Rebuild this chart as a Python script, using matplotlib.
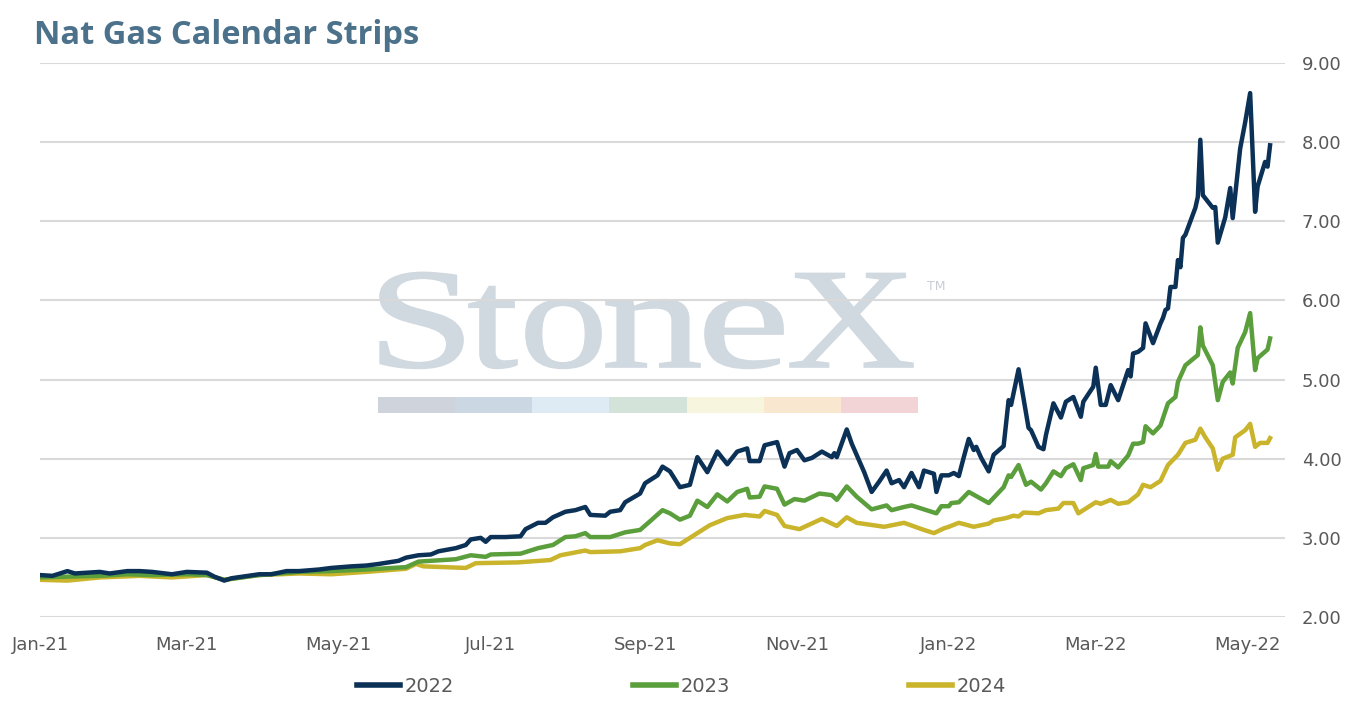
import matplotlib
matplotlib.use("Agg")
import matplotlib.pyplot as plt
import matplotlib.dates as mdates
import pandas as pd
from matplotlib.font_manager import FontProperties
from matplotlib.textpath import TextPath
from matplotlib.patches import PathPatch, Rectangle
from matplotlib.transforms import Affine2D
from matplotlib.lines import Line2D


# ============================================================
# Data
# ============================================================

dates_2022 = [
    "2021-01-01", "2021-01-06", "2021-01-12", "2021-01-15", "2021-01-25", "2021-01-29",
    "2021-02-05", "2021-02-10", "2021-02-15", "2021-02-23", "2021-03-01", "2021-03-09",
    "2021-03-12", "2021-03-16", "2021-03-19", "2021-03-30", "2021-04-04", "2021-04-10",
    "2021-04-15", "2021-04-23", "2021-04-28", "2021-05-06", "2021-05-12", "2021-05-17",
    "2021-05-25", "2021-05-28", "2021-06-02", "2021-06-07", "2021-06-10", "2021-06-17",
    "2021-06-21", "2021-06-23", "2021-06-27", "2021-06-29", "2021-07-01", "2021-07-07",
    "2021-07-13", "2021-07-15", "2021-07-20", "2021-07-23", "2021-07-26", "2021-07-31",
    "2021-08-04", "2021-08-08", "2021-08-10", "2021-08-16", "2021-08-18", "2021-08-22",
    "2021-08-24", "2021-08-30", "2021-09-01", "2021-09-06", "2021-09-08", "2021-09-11",
    "2021-09-15", "2021-09-19", "2021-09-22", "2021-09-26", "2021-09-30", "2021-10-04",
    "2021-10-08", "2021-10-12", "2021-10-13", "2021-10-17", "2021-10-19", "2021-10-24",
    "2021-10-27", "2021-10-29", "2021-11-01", "2021-11-04", "2021-11-07", "2021-11-11",
    "2021-11-15", "2021-11-16", "2021-11-17", "2021-11-21", "2021-11-23", "2021-11-28",
    "2021-12-01", "2021-12-04", "2021-12-07", "2021-12-09", "2021-12-12", "2021-12-14",
    "2021-12-17", "2021-12-20", "2021-12-22", "2021-12-26", "2021-12-27", "2021-12-29",
    "2022-01-01", "2022-01-03", "2022-01-05", "2022-01-07", "2022-01-09", "2022-01-11",
    "2022-01-12", "2022-01-14", "2022-01-17", "2022-01-19", "2022-01-23", "2022-01-25",
    "2022-01-26", "2022-01-29", "2022-02-02", "2022-02-03", "2022-02-06", "2022-02-08",
    "2022-02-09", "2022-02-12", "2022-02-15", "2022-02-17", "2022-02-20", "2022-02-23",
    "2022-02-24", "2022-02-28", "2022-03-01", "2022-03-03", "2022-03-05", "2022-03-07",
    "2022-03-10", "2022-03-14", "2022-03-15", "2022-03-16", "2022-03-18", "2022-03-20",
    "2022-03-21", "2022-03-24", "2022-03-27", "2022-03-28", "2022-03-29", "2022-03-30",
    "2022-03-31", "2022-04-02", "2022-04-03", "2022-04-04", "2022-04-05", "2022-04-06",
    "2022-04-10", "2022-04-11", "2022-04-12", "2022-04-13", "2022-04-17", "2022-04-18",
    "2022-04-19", "2022-04-22", "2022-04-24", "2022-04-25", "2022-04-28", "2022-04-30",
    "2022-05-02", "2022-05-04", "2022-05-05", "2022-05-08", "2022-05-09", "2022-05-10",
]
values_2022 = [
    2.53, 2.52, 2.58, 2.55, 2.57, 2.55,
    2.58, 2.58, 2.57, 2.54, 2.57, 2.56,
    2.51, 2.46, 2.49, 2.54, 2.54, 2.58,
    2.58, 2.60, 2.62, 2.64, 2.65, 2.67,
    2.71, 2.75, 2.78, 2.79, 2.83, 2.87,
    2.91, 2.98, 3.00, 2.95, 3.01, 3.01,
    3.02, 3.11, 3.19, 3.19, 3.26, 3.33,
    3.35, 3.39, 3.29, 3.28, 3.33, 3.35,
    3.45, 3.56, 3.69, 3.79, 3.90, 3.84,
    3.64, 3.67, 4.02, 3.83, 4.09, 3.93,
    4.09, 4.13, 3.97, 3.97, 4.17, 4.21,
    3.90, 4.07, 4.11, 3.98, 4.01, 4.09,
    4.02, 4.07, 4.02, 4.37, 4.19, 3.83,
    3.58, 3.71, 3.85, 3.69, 3.73, 3.64,
    3.82, 3.64, 3.85, 3.81, 3.58, 3.79,
    3.79, 3.82, 3.78, 4.02, 4.25, 4.11,
    4.15, 4.01, 3.84, 4.05, 4.16, 4.74,
    4.68, 5.13, 4.39, 4.36, 4.15, 4.12,
    4.30, 4.70, 4.52, 4.72, 4.78, 4.53,
    4.72, 4.91, 5.15, 4.68, 4.68, 4.93,
    4.74, 5.12, 5.04, 5.33, 5.35, 5.40,
    5.71, 5.46, 5.71, 5.78, 5.88, 5.90,
    6.17, 6.17, 6.51, 6.42, 6.79, 6.83,
    7.17, 7.31, 8.03, 7.33, 7.17, 7.18,
    6.73, 7.05, 7.42, 7.04, 7.92, 8.25,
    8.62, 7.12, 7.44, 7.75, 7.69, 7.96,
]

dates_2023 = [
    "2021-01-01", "2021-01-12", "2021-01-25", "2021-02-05", "2021-02-15", "2021-03-01",
    "2021-03-09", "2021-03-16", "2021-03-30", "2021-04-15", "2021-04-28", "2021-05-12",
    "2021-05-28", "2021-06-02", "2021-06-17", "2021-06-23", "2021-06-29", "2021-07-01",
    "2021-07-13", "2021-07-20", "2021-07-26", "2021-07-31", "2021-08-04", "2021-08-08",
    "2021-08-10", "2021-08-18", "2021-08-22", "2021-08-24", "2021-08-30", "2021-09-03",
    "2021-09-08", "2021-09-11", "2021-09-15", "2021-09-19", "2021-09-22", "2021-09-26",
    "2021-09-30", "2021-10-04", "2021-10-08", "2021-10-12", "2021-10-13", "2021-10-17",
    "2021-10-19", "2021-10-24", "2021-10-27", "2021-10-31", "2021-11-04", "2021-11-10",
    "2021-11-15", "2021-11-17", "2021-11-21", "2021-11-25", "2021-12-01", "2021-12-07",
    "2021-12-09", "2021-12-14", "2021-12-17", "2021-12-27", "2021-12-29", "2022-01-01",
    "2022-01-02", "2022-01-05", "2022-01-09", "2022-01-17", "2022-01-23", "2022-01-25",
    "2022-01-26", "2022-01-29", "2022-02-01", "2022-02-03", "2022-02-07", "2022-02-09",
    "2022-02-12", "2022-02-15", "2022-02-17", "2022-02-20", "2022-02-23", "2022-02-24",
    "2022-02-28", "2022-03-01", "2022-03-02", "2022-03-06", "2022-03-07", "2022-03-10",
    "2022-03-14", "2022-03-16", "2022-03-18", "2022-03-20", "2022-03-21", "2022-03-24",
    "2022-03-27", "2022-03-30", "2022-04-02", "2022-04-03", "2022-04-06", "2022-04-11",
    "2022-04-12", "2022-04-13", "2022-04-17", "2022-04-19", "2022-04-21", "2022-04-24",
    "2022-04-25", "2022-04-27", "2022-04-30", "2022-05-02", "2022-05-04", "2022-05-05",
    "2022-05-09", "2022-05-10",
]
values_2023 = [
    2.50, 2.51, 2.52, 2.54, 2.53, 2.54,
    2.53, 2.47, 2.53, 2.57, 2.58, 2.60,
    2.63, 2.70, 2.73, 2.78, 2.76, 2.79,
    2.80, 2.87, 2.91, 3.01, 3.02, 3.06,
    3.01, 3.01, 3.05, 3.07, 3.10, 3.21,
    3.35, 3.31, 3.23, 3.28, 3.47, 3.39,
    3.55, 3.46, 3.58, 3.62, 3.51, 3.52,
    3.65, 3.62, 3.42, 3.49, 3.47, 3.56,
    3.54, 3.48, 3.65, 3.52, 3.36, 3.41,
    3.35, 3.39, 3.41, 3.31, 3.40, 3.40,
    3.44, 3.45, 3.58, 3.44, 3.64, 3.79,
    3.77, 3.92, 3.67, 3.71, 3.61, 3.69,
    3.84, 3.78, 3.88, 3.93, 3.73, 3.88,
    3.92, 4.06, 3.90, 3.90, 3.97, 3.89,
    4.04, 4.19, 4.19, 4.21, 4.41, 4.32,
    4.42, 4.70, 4.78, 4.97, 5.18, 5.31,
    5.66, 5.43, 5.18, 4.74, 4.97, 5.09,
    4.95, 5.40, 5.60, 5.84, 5.12, 5.27,
    5.38, 5.52,
]

dates_2024 = [
    "2021-01-01", "2021-01-12", "2021-01-25", "2021-02-10", "2021-02-23", "2021-03-09",
    "2021-03-16", "2021-03-30", "2021-04-15", "2021-04-28", "2021-05-12", "2021-05-28",
    "2021-06-01", "2021-06-04", "2021-06-21", "2021-06-25", "2021-07-12", "2021-07-25",
    "2021-07-29", "2021-08-08", "2021-08-10", "2021-08-22", "2021-08-30", "2021-09-01",
    "2021-09-06", "2021-09-11", "2021-09-15", "2021-09-19", "2021-09-22", "2021-09-27",
    "2021-10-04", "2021-10-11", "2021-10-17", "2021-10-19", "2021-10-24", "2021-10-27",
    "2021-11-02", "2021-11-11", "2021-11-17", "2021-11-21", "2021-11-25", "2021-12-06",
    "2021-12-14", "2021-12-22", "2021-12-26", "2021-12-30", "2022-01-01", "2022-01-05",
    "2022-01-11", "2022-01-17", "2022-01-19", "2022-01-24", "2022-01-27", "2022-01-29",
    "2022-01-31", "2022-02-06", "2022-02-09", "2022-02-14", "2022-02-16", "2022-02-20",
    "2022-02-22", "2022-02-26", "2022-03-01", "2022-03-03", "2022-03-07", "2022-03-10",
    "2022-03-14", "2022-03-18", "2022-03-20", "2022-03-23", "2022-03-27", "2022-03-30",
    "2022-04-03", "2022-04-06", "2022-04-10", "2022-04-12", "2022-04-14", "2022-04-17",
    "2022-04-19", "2022-04-21", "2022-04-25", "2022-04-26", "2022-04-30", "2022-05-02",
    "2022-05-04", "2022-05-06", "2022-05-09", "2022-05-10",
]
values_2024 = [
    2.47, 2.46, 2.50, 2.52, 2.50, 2.53,
    2.47, 2.53, 2.55, 2.54, 2.57, 2.61,
    2.67, 2.64, 2.62, 2.68, 2.69, 2.72,
    2.78, 2.84, 2.82, 2.83, 2.87, 2.91,
    2.97, 2.93, 2.92, 3.00, 3.06, 3.16,
    3.25, 3.29, 3.27, 3.34, 3.29, 3.15,
    3.11, 3.24, 3.15, 3.26, 3.19, 3.14,
    3.19, 3.10, 3.06, 3.12, 3.14, 3.19,
    3.14, 3.18, 3.22, 3.25, 3.28, 3.27,
    3.32, 3.31, 3.35, 3.37, 3.44, 3.44,
    3.31, 3.39, 3.45, 3.43, 3.48, 3.43,
    3.45, 3.55, 3.67, 3.64, 3.72, 3.92,
    4.05, 4.20, 4.24, 4.38, 4.27, 4.13,
    3.86, 4.00, 4.05, 4.27, 4.36, 4.44,
    4.15, 4.20, 4.20, 4.26,
]

series_labels = ["2022", "2023", "2024"]
series_colors = ["#0b3157", "#5b9e3c", "#c9b42b"]

y_ticks = [2.0, 3.0, 4.0, 5.0, 6.0, 7.0, 8.0, 9.0]

watermark_text = "StoneX"
watermark_colors = ["#cfd4dc", "#ccd7e4", "#deeaf4", "#d4e3d9",
                    "#f7f5dd", "#f9e7d0", "#f2d4d6"]


# ============================================================
# Figure
# ============================================================

W, H = 1350, 707
fig = plt.figure(figsize=(W / 100, H / 100), dpi=100)
plt.rcParams["font.family"] = ["DejaVu Sans"]

ax = fig.add_axes([40 / W, 1 - 617 / H, (1285 - 40) / W, (617 - 63) / H])

all_series = [
    (dates_2022, values_2022),
    (dates_2023, values_2023),
    (dates_2024, values_2024),
]

# draw later series first so 2022 sits on top
for (d, v), color, label in reversed(list(zip(all_series, series_colors, series_labels))):
    ax.plot(pd.to_datetime(d), v, color=color, lw=3.2, label=label, zorder=3)

ax.set_xlim(pd.Timestamp("2021-01-01"), pd.Timestamp("2022-05-16"))
ax.set_ylim(2, 9)

ax.set_yticks(y_ticks)
ax.yaxis.set_major_formatter(matplotlib.ticker.FormatStrFormatter("%.2f"))
ax.yaxis.tick_right()

ax.xaxis.set_major_locator(mdates.MonthLocator(bymonth=[1, 3, 5, 7, 9, 11]))
ax.xaxis.set_major_formatter(mdates.DateFormatter("%b-%y"))

ax.tick_params(axis="both", length=0, colors="#595959", labelsize=13)
ax.tick_params(axis="x", pad=14)
ax.tick_params(axis="y", pad=12)

for spine in ax.spines.values():
    spine.set_visible(False)

ax.set_axisbelow(True)
ax.grid(axis="y", color="#d9d9d9", lw=1.5)
ax.grid(axis="x", visible=False)

# --------------------------------------------------------
# StoneX watermark, one letter at a time (figure pixel space)
# --------------------------------------------------------

to_fig = Affine2D().scale(1 / W, 1 / H) + fig.transFigure
wm_font = FontProperties(family="Liberation Serif")

# left/right pixel edge of each letter in the logo
letter_boxes = [(380, 463), (469, 517), (526, 601), (606, 700), (705, 783), (790, 913)]
baseline = 367
cap_px = 96

s_ext = TextPath((0, 0), "S", size=1, prop=wm_font).get_extents()
sy = cap_px / s_ext.height
for ch, (lx, rx) in zip(watermark_text, letter_boxes):
    tp = TextPath((0, 0), ch, size=1, prop=wm_font)
    bb = tp.get_extents()
    tr = (Affine2D()
          .translate(-bb.x0, 0)
          .scale((rx - lx) / bb.width, sy)
          .translate(lx, H - baseline))
    ax.add_patch(PathPatch(tp, transform=tr + to_fig, facecolor="#d0d8e0",
                           edgecolor="#d0d8e0", lw=1.2, zorder=0.2, clip_on=False))

fig.text(927 / W, 1 - 286 / H, "TM", color="#c8ced6", fontsize=9, ha="left", va="center")

seg_w = (918 - 378) / len(watermark_colors)
for i, c in enumerate(watermark_colors):
    ax.add_patch(Rectangle((378 + i * seg_w, H - 413), seg_w, 16, transform=to_fig,
                           facecolor=c, edgecolor="none", zorder=0.2, clip_on=False))

# --------------------------------------------------------
# Title and legend
# --------------------------------------------------------

fig.text(34 / W, 1 - 35 / H, "Nat Gas Calendar Strips", color="#4b718b",
         fontsize=23.5, fontweight="bold", family="Open Sans", ha="left", va="center")

handles = [Line2D([], [], color=c, lw=4) for c in series_colors]
fig.legend(handles, series_labels, loc="center", bbox_to_anchor=(0.505, 1 - 686 / H),
           ncol=3, frameon=False, fontsize=14, handlelength=2.2, handletextpad=0.25,
           columnspacing=9.2, labelcolor="#595959")

fig.savefig("out.png", dpi=100)
